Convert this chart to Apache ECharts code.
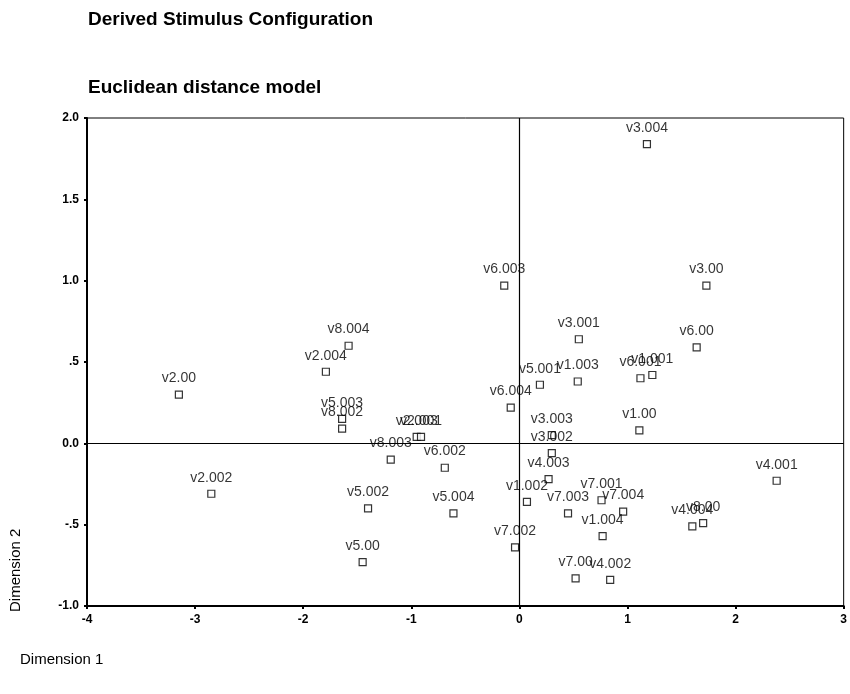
<!DOCTYPE html>
<html lang="en">
<head>
    <meta charset="utf-8">
    <title>Derived Stimulus Configuration</title>
    <script src="https://cdn.jsdelivr.net/npm/echarts@6/dist/echarts.min.js"></script>
    <style>
        html, body { margin: 0; padding: 0; background: #fff; }
        #chart { width: 850px; height: 694px; }
    </style>
</head>
<body>
<div id="chart"></div>
<script>
    // stimulus labels and their coordinates
    var stimuli = ['v3.004', 'v6.003', 'v3.00', 'v8.004', 'v2.004', 'v2.00', 'v5.003', 'v8.002',
        'v2.003', 'v2.001', 'v8.003', 'v6.002', 'v5.002', 'v5.004', 'v5.00', 'v6.004',
        'v1.002', 'v7.002', 'v3.001', 'v5.001', 'v1.003', 'v6.001', 'v1.001', 'v6.00',
        'v1.00', 'v3.003', 'v3.002', 'v4.003', 'v7.003', 'v7.001', 'v7.004', 'v1.004',
        'v7.00', 'v4.002', 'v4.001', 'v4.004', 'v8.00', 'v2.002'];
    var dim1 = [1.18, -0.14, 1.73, -1.58, -1.79, -3.15, -1.64, -1.64,
        -0.95, -0.91, -1.19, -0.69, -1.40, -0.61, -1.45, -0.08,
        0.07, -0.04, 0.55, 0.19, 0.54, 1.12, 1.23, 1.64,
        1.11, 0.30, 0.30, 0.27, 0.45, 0.76, 0.96, 0.77,
        0.52, 0.84, 2.38, 1.60, 1.70, -2.85];
    var dim2 = [1.84, 0.97, 0.97, 0.60, 0.44, 0.30, 0.15, 0.09,
        0.04, 0.04, -0.10, -0.15, -0.40, -0.43, -0.73, 0.22,
        -0.36, -0.64, 0.64, 0.36, 0.38, 0.40, 0.42, 0.59,
        0.08, 0.05, -0.06, -0.22, -0.43, -0.35, -0.42, -0.57,
        -0.83, -0.84, -0.23, -0.51, -0.49, -0.31];
    var xTicks = ['-4', '-3', '-2', '-1', '0', '1', '2', '3'];
    var yTicks = ['-1.0', '-.5', '0.0', '.5', '1.0', '1.5', '2.0'];

    var points = [];
    for (var i = 0; i < stimuli.length; i++) {
        points.push({name: stimuli[i], value: [dim1[i], dim2[i]]});
    }

    var chart = echarts.init(document.getElementById('chart'));
    var font = 'Liberation Sans, Arial, sans-serif';

    chart.setOption({
        animation: false,
        backgroundColor: '#fff',
        textStyle: {fontFamily: font},
        graphic: [
            {type: 'text', left: 88, top: 10, style: {text: 'Derived Stimulus Configuration', font: 'bold 19px ' + font, fill: '#000'}},
            {type: 'text', left: 88, top: 78, style: {text: 'Euclidean distance model', font: 'bold 19px ' + font, fill: '#000'}},
            {type: 'text', left: 20, top: 652, style: {text: 'Dimension 1', font: '15px ' + font, fill: '#000'}},
            {type: 'text', x: 8, y: 612, rotation: Math.PI / 2, style: {text: 'Dimension 2', font: '15px ' + font, fill: '#000'}}
        ],
        grid: {left: 87, right: 3, top: 118, bottom: 88, show: true, borderColor: '#000', borderWidth: 1},
        xAxis: {
            type: 'value', min: -4, max: 3, interval: 1,
            splitLine: {show: false},
            axisLine: {onZero: false, lineStyle: {color: '#000', width: 2}},
            axisTick: {show: true, length: 3, lineStyle: {color: '#000', width: 2}},
            axisLabel: {
                color: '#000', fontSize: 12, fontWeight: 'bold', margin: 8,
                formatter: function (v) { return xTicks[Math.round(v) + 4]; }
            }
        },
        yAxis: {
            type: 'value', min: -1, max: 2, interval: 0.5,
            splitLine: {show: false},
            axisLine: {onZero: false, lineStyle: {color: '#000', width: 2}},
            axisTick: {show: true, length: 3, lineStyle: {color: '#000', width: 2}},
            axisLabel: {
                color: '#000', fontSize: 12, fontWeight: 'bold', margin: 8,
                formatter: function (v) { return yTicks[Math.round((v + 1) * 2)]; }
            }
        },
        series: [{
            type: 'scatter',
            data: points,
            symbol: 'rect',
            symbolSize: 7,
            itemStyle: {color: '#fff', borderColor: '#000', borderWidth: 1.2},
            label: {
                show: true, position: 'top', distance: 5,
                formatter: '{b}', color: '#000', fontSize: 14, fontFamily: font
            },
            markLine: {
                silent: true, symbol: 'none', label: {show: false},
                lineStyle: {color: '#000', width: 1.2, type: 'solid'},
                data: [{xAxis: 0}, {yAxis: 0}]
            },
            z: 3
        }]
    });
</script>
</body>
</html>
